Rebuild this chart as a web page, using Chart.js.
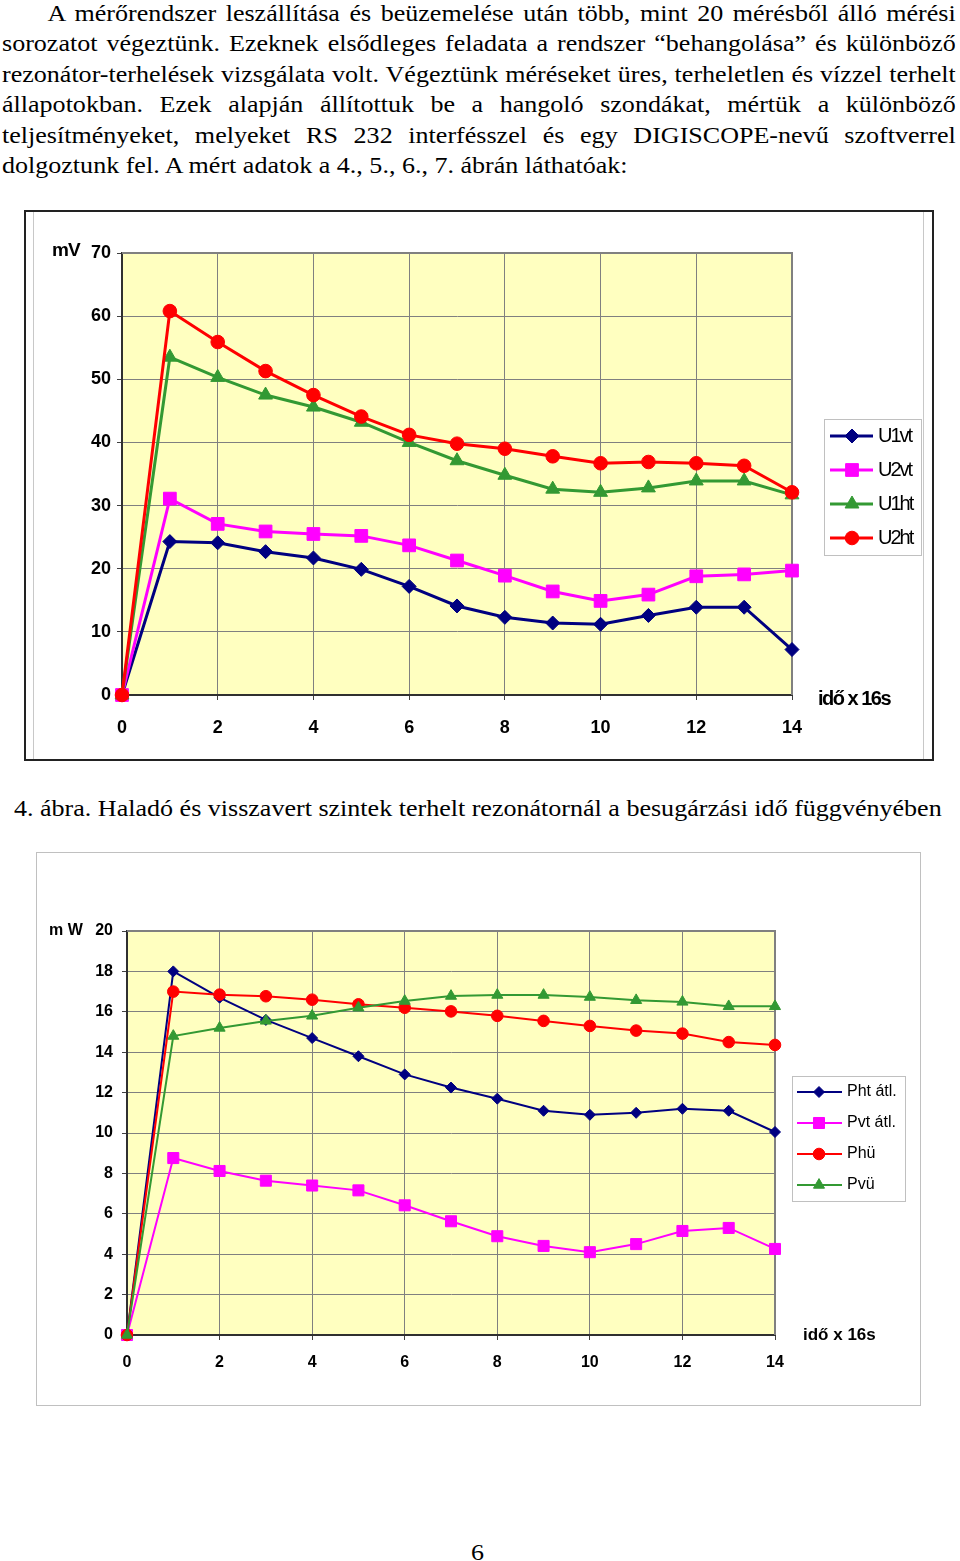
<!DOCTYPE html>
<html>
<head>
<meta charset="utf-8">
<script src="https://cdn.jsdelivr.net/npm/chart.js@4.4.1/dist/chart.umd.min.js"></script>
<style>
    body { margin: 0; width: 960px; height: 1561px; position: relative; background: #fff; overflow: hidden; }
    .txt { position: absolute; font-family: 'Liberation Serif', 'Times New Roman', serif; font-size: 24px; line-height: 30.4px; color: #000; transform-origin: 0 0; transform: scaleX(1.085); white-space: nowrap; }
    .j { text-align: justify; text-align-last: justify; white-space: normal; }
    #para { left: 2px; top: -2px; width: 879px; }
    #para div { height: 30.4px; overflow: hidden; }
    #caption { left: 14px; top: 793px; }
    #page_no { left: 471px; top: 1537px; }
    .frame { position: absolute; box-sizing: border-box; }
    #frame1 { left: 24px; top: 210px; width: 910px; height: 551px; border: 2px solid #222; }
    #frame1_in { left: 33px; top: 212px; width: 891px; height: 547px; border-left: 1px solid #c8c8c8; border-right: 1px solid #c8c8c8; }
    #frame2 { left: 36px; top: 852px; width: 885px; height: 554px; border: 1px solid #c0c0c0; }
    canvas { position: absolute; }
    #chart_mv { left: 24px; top: 210px; }
    #chart_mw { left: 36px; top: 852px; }
</style>
</head>
<body>

<div id="para" class="txt">
    <div class="j" style="padding-left:42px">A mérőrendszer leszállítása és beüzemelése után több, mint 20 mérésből álló mérési</div>
    <div class="j">sorozatot végeztünk. Ezeknek elsődleges feladata a rendszer “behangolása” és különböző</div>
    <div class="j">rezonátor-terhelések vizsgálata volt. Végeztünk méréseket üres, terheletlen és vízzel terhelt</div>
    <div class="j">állapotokban. Ezek alapján állítottuk be a hangoló szondákat, mértük a különböző</div>
    <div class="j">teljesítményeket, melyeket RS 232 interfésszel és egy DIGISCOPE-nevű szoftverrel</div>
    <div>dolgoztunk fel. A mért adatok a 4., 5., 6., 7. ábrán láthatóak:</div>
</div>

<div id="frame1" class="frame"></div>
<div id="frame1_in" class="frame"></div>
<canvas id="chart_mv" width="910" height="551"></canvas>

<div id="caption" class="txt">4. ábra. Haladó és visszavert szintek terhelt rezonátornál a besugárzási idő függvényében</div>

<div id="frame2" class="frame"></div>
<canvas id="chart_mw" width="885" height="554"></canvas>

<div id="page_no" class="txt">6</div>

<script>
    'use strict';

    // x axis: measurement number (idő x 16s)
    var timeSteps = [0, 1, 2, 3, 4, 5, 6, 7, 8, 9, 10, 11, 12, 13, 14];

    // 4. ábra, mV
    var u1vt = [0, 24.3, 24.1, 22.7, 21.7, 19.9, 17.2, 14.1, 12.3, 11.4, 11.2, 12.6, 13.9, 13.9, 7.2];
    var u2vt = [0, 31.1, 27.1, 25.9, 25.5, 25.2, 23.7, 21.3, 18.9, 16.4, 14.9, 15.9, 18.8, 19.1, 19.7];
    var u1ht = [0, 53.5, 50.3, 47.5, 45.6, 43.2, 40.0, 37.1, 34.8, 32.6, 32.1, 32.8, 33.9, 33.9, 31.7];
    var u2ht = [0, 60.8, 55.9, 51.3, 47.5, 44.1, 41.2, 39.8, 39.0, 37.8, 36.7, 36.9, 36.7, 36.3, 32.1];

    // second figure, mW
    var phtAtl = [0, 18.0, 16.7, 15.6, 14.7, 13.8, 12.9, 12.25, 11.7, 11.1, 10.9, 11.0, 11.2, 11.1, 10.05];
    var pvtAtl = [0, 8.76, 8.12, 7.64, 7.4, 7.16, 6.42, 5.63, 4.89, 4.41, 4.1, 4.5, 5.15, 5.3, 4.26];
    var phu = [0, 17.0, 16.85, 16.77, 16.6, 16.37, 16.2, 16.02, 15.8, 15.55, 15.3, 15.07, 14.92, 14.5, 14.36];
    var pvu = [0, 14.8, 15.2, 15.55, 15.8, 16.2, 16.53, 16.78, 16.83, 16.83, 16.73, 16.57, 16.49, 16.27, 16.27];

    var NAVY = '#000080';
    var MAGENTA = '#ff00ff';
    var GREEN = '#339933';
    var RED = '#ff0000';
    var SANS = "'Liberation Sans', Arial, sans-serif";

    function to_points(values) {
        var points = [];
        for (var i = 0; i < timeSteps.length; i++) {
            points.push({ x: timeSteps[i], y: values[i] });
        }
        return points;
    }

    function make_dataset(label, values, color, style, radius, width, order) {
        return {
            label: label,
            data: to_points(values),
            borderColor: color,
            backgroundColor: color,
            borderWidth: width,
            pointStyle: style,
            pointRadius: radius,
            pointHoverRadius: radius,
            pointBorderWidth: 1,
            tension: 0,
            clip: false,
            order: order
        };
    }

    function draw_marker(ctx, style, radius, x, y) {
        if (Chart.helpers && Chart.helpers.drawPoint) {
            Chart.helpers.drawPoint(ctx, { pointStyle: style, radius: radius, rotation: 0, borderWidth: 1 }, x, y);
        } else {
            ctx.beginPath();
            ctx.arc(x, y, radius, 0, Math.PI * 2);
            ctx.fill();
        }
    }

    // yellow plot area, grey top/right edge, axis notes and boxed legend
    var plot_frame = {
        id: 'plot_frame',
        beforeDraw: function (chart, args, opts) {
            var a = chart.chartArea;
            var ctx = chart.ctx;
            ctx.save();
            ctx.fillStyle = opts.fill;
            ctx.fillRect(a.left, a.top, a.right - a.left, a.bottom - a.top);
            ctx.restore();
        },
        beforeDatasetsDraw: function (chart, args, opts) {
            var a = chart.chartArea;
            var ctx = chart.ctx;
            ctx.save();
            ctx.strokeStyle = opts.edge;
            ctx.lineWidth = opts.edgeWidth;
            ctx.beginPath();
            ctx.moveTo(a.left, a.top);
            ctx.lineTo(a.right, a.top);
            ctx.lineTo(a.right, a.bottom);
            ctx.stroke();
            ctx.restore();
        },
        afterDraw: function (chart, args, opts) {
            var ctx = chart.ctx;
            ctx.save();
            ctx.fillStyle = '#000';
            ctx.textBaseline = 'middle';
            opts.notes.forEach(function (note) {
                ctx.font = note.font;
                ctx.letterSpacing = note.spacing || '0px';
                ctx.fillText(note.text, note.x, note.y);
            });

            var lg = opts.legend;
            ctx.letterSpacing = '0px';
            ctx.strokeStyle = '#c0c0c0';
            ctx.lineWidth = 1;
            ctx.strokeRect(lg.x + 0.5, lg.y + 0.5, lg.w, lg.h);
            chart.data.datasets.forEach(function (ds, i) {
                var y = lg.firstRow + i * lg.step;
                ctx.strokeStyle = ds.borderColor;
                ctx.lineWidth = ds.borderWidth;
                ctx.beginPath();
                ctx.moveTo(lg.lineFrom, y);
                ctx.lineTo(lg.lineTo, y);
                ctx.stroke();
                ctx.fillStyle = ds.backgroundColor;
                ctx.lineWidth = 1;
                draw_marker(ctx, ds.pointStyle, ds.pointRadius, lg.marker, y);
                ctx.fillStyle = '#000';
                ctx.font = lg.font;
                ctx.letterSpacing = lg.spacing;
                ctx.fillText(ds.label, lg.text, y);
                ctx.letterSpacing = '0px';
            });
            ctx.restore();
        }
    };

    function make_scales(cfg) {
        var tick_font = { family: SANS, size: cfg.fontSize, weight: 'bold' };
        return {
            x: {
                type: 'linear',
                min: 0,
                max: 14,
                ticks: { stepSize: 2, padding: cfg.xPad, color: '#000', font: tick_font },
                grid: { color: '#808080', lineWidth: 1, tickLength: 5, tickColor: '#404040' },
                border: { color: '#303030', width: 2 },
                afterFit: function (scale) { scale.height = cfg.xHeight; }
            },
            y: {
                min: 0,
                max: cfg.yMax,
                ticks: { stepSize: cfg.yStep, padding: cfg.yPad, color: '#000', font: tick_font },
                grid: { color: '#808080', lineWidth: 1, tickLength: 5, tickColor: '#404040' },
                border: { color: '#303030', width: 2 },
                afterFit: function (scale) { scale.width = cfg.yWidth; }
            }
        };
    }

    // 4. ábra
    new Chart(document.getElementById('chart_mv').getContext('2d'), {
        type: 'line',
        data: {
            datasets: [
                make_dataset('U1vt', u1vt, NAVY, 'rectRot', 7, 3, 3),
                make_dataset('U2vt', u2vt, MAGENTA, 'rect', 9, 3, 2),
                make_dataset('U1ht', u1ht, GREEN, 'triangle', 8, 3, 1),
                make_dataset('U2ht', u2ht, RED, 'circle', 6.8, 3, 0)
            ]
        },
        options: {
            responsive: false,
            animation: false,
            events: [],
            layout: { padding: { left: 0, top: 43, right: 142, bottom: 0 } },
            scales: make_scales({ fontSize: 18, xPad: 17, yPad: 6, xHeight: 66, yWidth: 98, yMax: 70, yStep: 10 }),
            plugins: {
                legend: { display: false },
                tooltip: { enabled: false },
                plot_frame: {
                    fill: '#ffffc0',
                    edge: '#808080',
                    edgeWidth: 2,
                    notes: [
                        { text: 'mV', x: 28, y: 41, font: 'bold 19px ' + SANS, spacing: '-1px' },
                        { text: 'idő x 16s', x: 794, y: 489, font: 'bold 20px ' + SANS, spacing: '-1.5px' }
                    ],
                    legend: {
                        x: 800, y: 209, w: 97, h: 136,
                        firstRow: 226, step: 34,
                        lineFrom: 806, lineTo: 849, marker: 828, text: 854,
                        font: '20px ' + SANS, spacing: '-2px'
                    }
                }
            }
        },
        plugins: [plot_frame]
    });

    // second figure, mW
    new Chart(document.getElementById('chart_mw').getContext('2d'), {
        type: 'line',
        data: {
            datasets: [
                make_dataset('Pht átl.', phtAtl, NAVY, 'rectRot', 5.5, 2, 3),
                make_dataset('Pvt átl.', pvtAtl, MAGENTA, 'rect', 7.8, 2, 2),
                make_dataset('Phü', phu, RED, 'circle', 5.8, 2, 1),
                make_dataset('Pvü', pvu, GREEN, 'triangle', 6.4, 2, 0)
            ]
        },
        options: {
            responsive: false,
            animation: false,
            events: [],
            layout: { padding: { left: 0, top: 79, right: 146, bottom: 0 } },
            scales: make_scales({ fontSize: 16, xPad: 13, yPad: 9, xHeight: 71, yWidth: 91, yMax: 20, yStep: 2 }),
            plugins: {
                legend: { display: false },
                tooltip: { enabled: false },
                plot_frame: {
                    fill: '#ffffc0',
                    edge: '#808080',
                    edgeWidth: 2,
                    notes: [
                        { text: 'm W', x: 13, y: 79, font: 'bold 16px ' + SANS },
                        { text: 'idő x 16s', x: 767, y: 483, font: 'bold 17px ' + SANS }
                    ],
                    legend: {
                        x: 756, y: 224, w: 113, h: 125,
                        firstRow: 240, step: 31,
                        lineFrom: 761, lineTo: 806, marker: 783, text: 811,
                        font: '16px ' + SANS, spacing: '0px'
                    }
                }
            }
        },
        plugins: [plot_frame]
    });
</script>
</body>
</html>
